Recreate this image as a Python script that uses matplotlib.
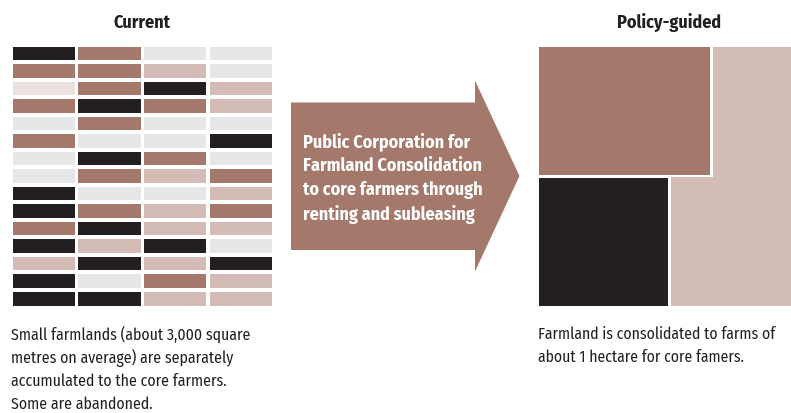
import matplotlib.pyplot as plt
from matplotlib.patches import Rectangle, Polygon
from matplotlib import font_manager

# colour codes for the fragmented parcels (row by row, 4 plots per row)
current_rows = [
    "KBGG", "BBPG", "LBKP", "BKBP", "GBGG",
    "BGGK", "GKBG", "GBPB", "KGGP", "KBPB",
    "BKPP", "KPKG", "PKPK", "KGBP", "KKPP",
]
palette = {
    "K": "#231f20",
    "B": "#a4796b",
    "P": "#d2bcb5",
    "G": "#e6e7e8",
    "L": "#ece1de",
}

# consolidated farms: (colour code, x0, x1, y0, y1) as fractions of the panel
policy_blocks = [
    ("B", 0.00, 0.68, 0.00, 0.495),
    ("K", 0.00, 0.51, 0.508, 1.00),
]
policy_lshape = [(0.69, 0.0), (1.0, 0.0), (1.0, 1.0), (0.525, 1.0), (0.525, 0.503), (0.69, 0.503)]

arrow_text = ["Public Corporation for", "Farmland Consolidation",
              "to core farmers through", "renting and subleasing"]
left_note = ["Small farmlands (about 3,000 square", "metres on average) are separately",
             "accumulated to the core farmers.", "Some are abandoned."]
right_note = ["Farmland is consolidated to farms of", "about 1 hectare for core famers."]

names = {f.name for f in font_manager.fontManager.ttflist}
narrow = "Liberation Sans"
for cand in ["Fira Sans Condensed", "PT Sans Narrow", "Open Sans Condensed", "Asap Condensed", "Archivo Narrow"]:
    if cand in names:
        narrow = cand
        break

W, H = 791, 413
fig = plt.figure(figsize=(W / 100, H / 100), dpi=100)
ax = fig.add_axes([0, 0, 1, 1])
ax.set_xlim(0, W)
ax.set_ylim(H, 0)
ax.axis("off")

# left grid
gx0, gx1, gy0, gy1 = 12.5, 272, 46.5, 305.5
ncol, nrow = 4, len(current_rows)
gap_x, gap_y = 3.2, 3.6
cw = (gx1 - gx0 - gap_x * (ncol - 1)) / ncol
ch = (gy1 - gy0 - gap_y * (nrow - 1)) / nrow
for r, row in enumerate(current_rows):
    for c, code in enumerate(row):
        x = gx0 + c * (cw + gap_x)
        y = gy0 + r * (ch + gap_y)
        ax.add_patch(Rectangle((x, y), cw, ch, facecolor=palette[code], edgecolor="none"))

# right panel
px0, px1, py0, py1 = 539, 791, 46.5, 305.5
pw, ph = px1 - px0, py1 - py0
for code, fx0, fx1, fy0, fy1 in policy_blocks:
    ax.add_patch(Rectangle((px0 + fx0 * pw, py0 + fy0 * ph), (fx1 - fx0) * pw, (fy1 - fy0) * ph,
                           facecolor=palette[code], edgecolor="none"))
ax.add_patch(Polygon([(px0 + fx * pw, py0 + fy * ph) for fx, fy in policy_lshape],
                     closed=True, facecolor=palette["P"], edgecolor="none"))

# arrow
arrow = [(291, 102.5), (475, 102.5), (475, 80.5), (519.5, 176), (475, 271.5), (475, 250), (291, 250)]
ax.add_patch(Polygon(arrow, closed=True, facecolor=palette["B"], edgecolor="none"))
for i, line in enumerate(arrow_text):
    ax.text(303, 142 + i * 24, line, color="white", fontsize=13, fontweight="bold",
            family=narrow, ha="left", va="center")

# titles
ax.text(142, 23, "Current", fontsize=13, fontweight="bold", family=narrow,
        ha="center", va="center", color="#231f20")
ax.text(669, 23, "Policy-guided", fontsize=13, fontweight="bold", family=narrow,
        ha="center", va="center", color="#231f20")

# notes
for i, line in enumerate(left_note):
    ax.text(11, 334 + i * 23.5, line, fontsize=11.4, family=narrow,
            ha="left", va="center", color="#231f20")
for i, line in enumerate(right_note):
    ax.text(538, 334 + i * 23.5, line, fontsize=11.3, family=narrow,
            ha="left", va="center", color="#231f20")

fig.savefig("out.png", dpi=100)
